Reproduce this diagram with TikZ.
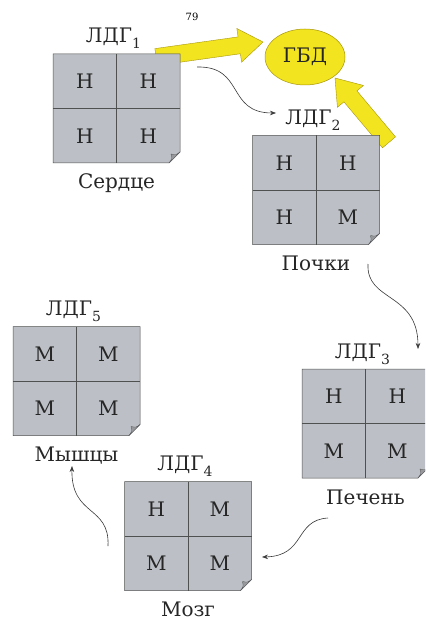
\documentclass[tikz,border=0pt]{standalone}
\usepackage{fontspec}
\setmainfont{DejaVu Serif}
\newfontfamily\ldgfont{DejaVu Serif}
\usetikzlibrary{calc,arrows.meta,shapes.geometric}
\definecolor{cellgray}{HTML}{BCBFC5}
\definecolor{gridc}{HTML}{4F5050}
\definecolor{flapc}{HTML}{96989C}
\definecolor{yel}{HTML}{F2E41E}
\definecolor{yelline}{HTML}{A8960C}
\definecolor{arrc}{HTML}{3A3A3A}
\newcommand\ldgsub[1]{\raisebox{-6pt}{\fontsize{14}{14}\selectfont #1}}
% #1 name, #2 centre, #3 index, #4-#7 cells, #8 organ
\newcommand\ldgbox[8]{%
  \node[boxnode] (#1) at (#2) {};
  \draw[boxline] (#1.north west) -- (#1.north east) -- ($(#1.south east)+(0,-11)$)
     -- ($(#1.south east)+(-11,0)$) -- (#1.south west) -- cycle;
  \draw[gridline] (#1.north) -- (#1.south);
  \draw[gridline] (#1.west) -- (#1.east);
  \fill[flapc, draw=gridc, line width=0.3pt] ($(#1.south east)+(0,-11)$)
     .. controls ($(#1.south east)+(-4,-8)$) .. ($(#1.south east)+(-9,-9)$)
     .. controls ($(#1.south east)+(-8,-4)$) .. ($(#1.south east)+(-11,0)$) -- cycle;
  \node[celltext] (#1a) at ($(#1.center)!0.5!(#1.north west)$) {#4};
  \node[celltext] (#1b) at ($(#1.center)!0.5!(#1.north east)$) {#5};
  \node[celltext] (#1c) at ($(#1.center)!0.5!(#1.south west)$) {#6};
  \node[celltext] (#1d) at ($(#1.center)!0.5!(#1.south east)$) {#7};
  \node[lbl, anchor=base] (#1l) at ($(#1.north)+(-3,-11)$) {ЛДГ\ldgsub{#3}};
  \node[lbl, anchor=base] (#1o) at ($(#1.south)+(0,26)$) {#8};
}
\begin{document}
\begin{tikzpicture}[x=1pt,y=-1pt,
  boxnode/.style={minimum width=127pt, minimum height=109pt, inner sep=0pt, outer sep=0pt},
  boxline/.style={fill=cellgray, draw=gridc, line width=0.5pt},
  gridline/.style={draw=gridc, line width=0.6pt},
  celltext/.style={font=\ldgfont\fontsize{20}{23}\selectfont, text=black!85, inner sep=0pt},
  lbl/.style={font=\ldgfont\fontsize{20}{23}\selectfont, text=black!85, inner sep=0pt},
  bigarrow/.style={fill=yel, draw=yelline, line width=0.4pt, line join=miter},
  flow/.style={draw=arrc, line width=0.6pt, -{Stealth[length=6pt,width=4.5pt]}}]
\useasboundingbox (0,0) rectangle (425,620);
\clip (0,0) rectangle (425,620);
\fill[white] (0,0) rectangle (425,620);

\node[font=\ldgfont\fontsize{10}{12}\selectfont, inner sep=0pt] (page) at (192,17) {79};

% big yellow arrows (behind boxes)
\coordinate (t1) at (263,42);
\coordinate (t2) at (335,78);
\begin{scope}[shift={(t1)}, rotate=8]
  \draw[bigarrow] (0,0) -- (-24,-17) -- (-24,-8.5) -- (-108,-8.5) -- (-108,8.5) -- (-24,8.5) -- (-24,17) -- cycle;
\end{scope}
\begin{scope}[shift={(t2)}, rotate=130]
  \draw[bigarrow] (0,0) -- (-24,-17) -- (-24,-8.5) -- (-84,-8.5) -- (-84,8.5) -- (-24,8.5) -- (-24,17) -- cycle;
\end{scope}

\node[ellipse, minimum width=80pt, minimum height=56pt, inner sep=0pt,
      fill=yel, draw=yelline, line width=0.5pt, font=\ldgfont\fontsize{20}{23}\selectfont, text=black!85] (gbd) at (305,57) {ГБД};

\ldgbox{b1}{116.5,108.5}{1}{Н}{Н}{Н}{Н}{Сердце}
\ldgbox{b2}{316,190}{2}{Н}{Н}{Н}{М}{Почки}
\ldgbox{b3}{365.5,423.5}{3}{Н}{Н}{М}{М}{Печень}
\ldgbox{b4}{188,536}{4}{Н}{М}{М}{М}{Мозг}
\ldgbox{b5}{76.5,381}{5}{М}{М}{М}{М}{Мышцы}

% thin flow arrows
\coordinate (s1) at (197,67);   \coordinate (e1) at (276,113);
\coordinate (s2) at (368,264);  \coordinate (e2) at (418,349);
\coordinate (s3) at (328,518);  \coordinate (e3) at (262,557);
\coordinate (s4) at (108,546);  \coordinate (e4) at (72,466);
\draw[flow] (s1) .. controls (245,66) and (226,113) .. (e1);
\draw[flow] (s2) .. controls (366,302) and (418,292) .. (e2);
\draw[flow] (s3) .. controls (294,520) and (306,556) .. (e3);
\draw[flow] (s4) .. controls (110,505) and (71,517) .. (e4);
\end{tikzpicture}
\end{document}
